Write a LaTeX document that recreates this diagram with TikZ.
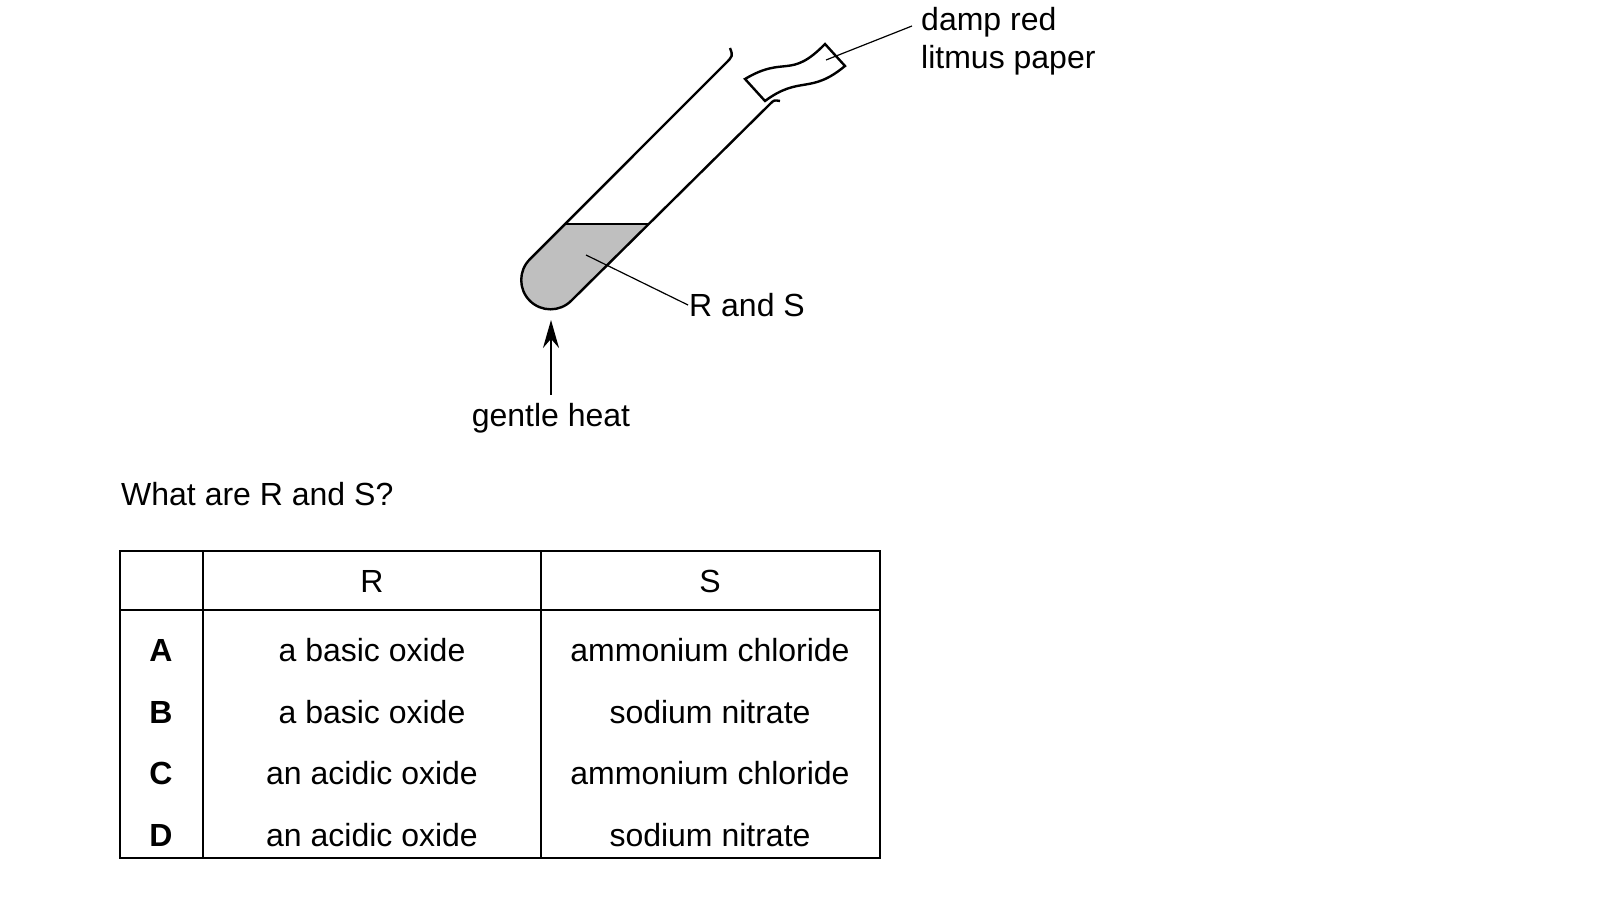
\documentclass[tikz,border=0pt]{standalone}
\usepackage{fontspec}
\setmainfont{Liberation Sans}
\usetikzlibrary{arrows.meta}
\begin{document}
\begin{tikzpicture}[x=0.5pt,y=-0.5pt,line width=1.2pt,
  lbl/.style={font=\fontsize{16}{19}\selectfont,inner sep=0pt},
  cell/.style={lbl,anchor=center},
  lead/.style={line width=0.6pt}]
\useasboundingbox (0,0) rectangle (1605,898);
% liquid
\fill[gray!50] (565,224) -- (529.8,259.3) arc[start angle=225,end angle=45,radius=29.3] -- (647.9,224) -- cycle;
\draw (565,224) -- (647.9,224);
% tube
\draw (730,48) .. controls (733,56) .. (725,64) -- (529.8,259.3)
  arc[start angle=225,end angle=45,radius=29.3] -- (770,104) .. controls (774,100) .. (780,101);
% litmus paper
\draw (745,79) .. controls (785,55) and (790,80) .. (825,44) -- (845,66)
  .. controls (810,95) and (800,75) .. (765,101) -- cycle;
\coordinate (paper) at (826,60);
\node[lbl,anchor=north west,align=left] (litmus) at (920,6) {damp red\\litmus paper};
\draw[lead] (paper) -- (912,26);
% contents
\coordinate (mix) at (586,255);
\node[lbl,anchor=west] (rs) at (688,305) {R and S};
\draw[lead] (mix) -- (rs.west);
% heat
\node[lbl] (heat) at (551,418) {gentle heat};
\coordinate (tip) at (551,320);
\draw[line width=1pt,-{Stealth[length=14pt,width=8pt]}] (551,395) -- (tip);
\node[lbl,anchor=west] (q) at (120,494) {What are R and S?};
% table
\draw[line width=0.9pt] (120,551) rectangle (880,858);
\draw[line width=0.9pt] (120,610) -- (880,610);
\draw[line width=0.9pt] (203,551) -- (203,858);
\draw[line width=0.9pt] (541,551) -- (541,858);
\node[cell] at (372,581) {R};
\node[cell] at (710,581) {S};
\foreach \y/\k/\r/\s in {650/A/a basic oxide/ammonium chloride,
  712/B/a basic oxide/sodium nitrate,
  773/C/an acidic oxide/ammonium chloride,
  835/D/an acidic oxide/sodium nitrate}{
  \node[cell,font=\fontsize{16}{19}\selectfont\bfseries] at (161,\y) {\k};
  \node[cell] at (372,\y) {\r};
  \node[cell] at (710,\y) {\s};
}
\end{tikzpicture}
\end{document}
